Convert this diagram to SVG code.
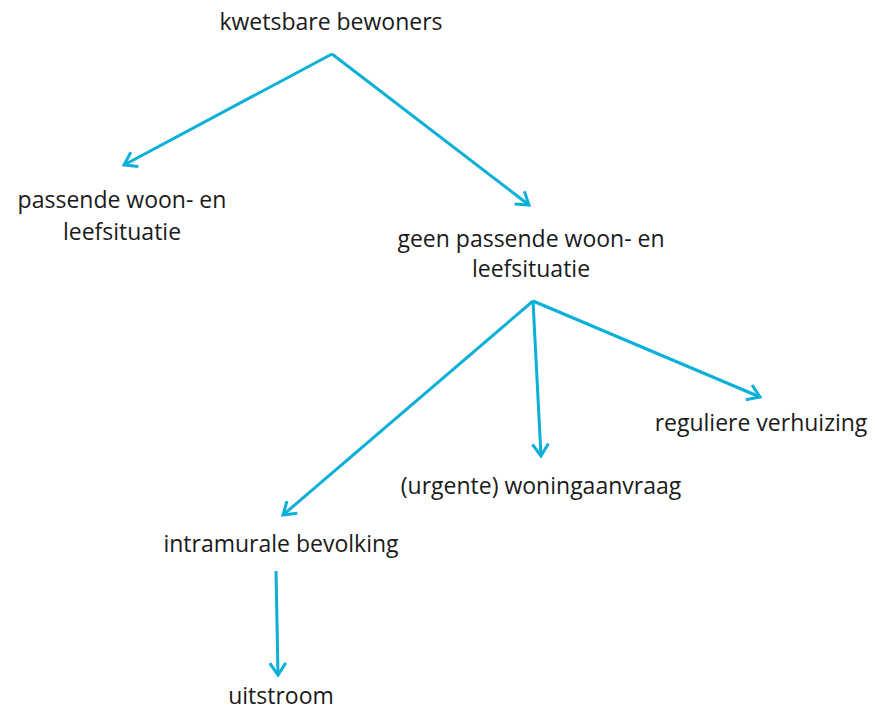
<svg xmlns="http://www.w3.org/2000/svg" width="875" height="709" viewBox="0 0 875 709">
<style>
text{font-family:"Open Sans","Liberation Sans",sans-serif;font-size:23px;fill:#1a1a1a;text-anchor:middle}
.c{stroke:#0BB0D8;stroke-width:3;fill:none;marker-end:url(#ah)}
</style>
<defs>
<marker id="ah" markerUnits="userSpaceOnUse" markerWidth="30" markerHeight="30" refX="15" refY="15" orient="auto" viewBox="0 0 30 30">
<path d="M3,7 L15,15 L3,23" fill="none" stroke="#0BB0D8" stroke-width="3"/>
</marker>
</defs>
<g id="connectors">
<path class="c" d="M332,54 L124,165"/>
<path class="c" d="M332,54 L529,205"/>
<path class="c" d="M533,301 L283,515"/>
<path class="c" d="M533,301 L541,456"/>
<path class="c" d="M533,301 L760,397"/>
<path class="c" d="M276,571 L278,675"/>
</g>
<g id="n-kwetsbare"><text x="331" y="30">kwetsbare bewoners</text></g>
<g id="n-passende"><text x="122" y="208">passende woon- en</text><text x="122" y="240">leefsituatie</text></g>
<g id="n-geen"><text x="531" y="247">geen passende woon- en</text><text x="531" y="277">leefsituatie</text></g>
<g id="n-regulier"><text x="761" y="431">reguliere verhuizing</text></g>
<g id="n-urgent"><text x="541" y="494">(urgente) woningaanvraag</text></g>
<g id="n-intramuraal"><text x="281" y="552">intramurale bevolking</text></g>
<g id="n-uitstroom"><text x="281" y="704">uitstroom</text></g>
</svg>
